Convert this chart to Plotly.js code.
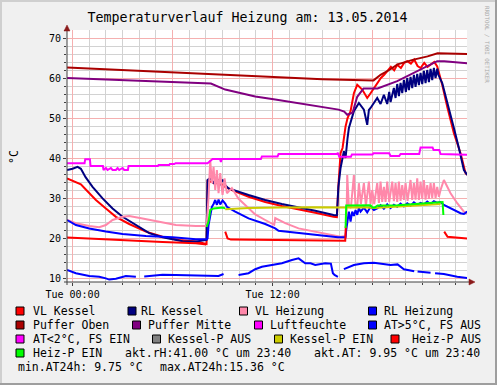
<!DOCTYPE html>
<html><head><meta charset="utf-8">
<script src="https://cdn.plot.ly/plotly-3.0.1.min.js"></script>
<style>html,body{margin:0;padding:0;background:#f0f0f0;}#chart{width:497px;height:385px;}</style>
</head><body><div id="chart"></div>
<script>
// time = hours relative to Tue 13.05.2014 00:00, value = °C
const vlKessel = [[-0.33,34.9],[0,34.3],[0.5,33.4],[0.78,32.2],[1.4,29.5],[2.0,27.4],[2.6,25.3],[3.4,23.5],[4.4,21.6],[5.4,20.3],[6.4,19.5],[7.4,19.1],[8.0,18.6],[8.04,18.5],[8.1,34.5],[8.16,34.2],[8.36,34.0],[8.56,33.5],[8.76,34.3],[9.0,33.2],[9.16,32.8],[9.56,32.0],[10.56,30.3],[11.56,29.0],[12.56,28.0],[13.56,27.2],[14.56,26.3],[15.66,25.3],[15.86,25.2],[15.95,33.0],[16.08,41.2],[16.2,42.5],[16.38,47.9],[16.5,50.0],[16.68,51.7],[16.88,56.2],[17.08,58.3],[17.38,57.1],[17.68,55.0],[17.88,56.2],[18.08,57.5],[18.28,58.7],[18.5,60.0],[18.7,60.8],[18.88,61.7],[19.1,62.8],[19.3,61.9],[19.48,63.3],[19.7,62.5],[19.9,63.8],[20.08,64.2],[20.3,63.6],[20.5,64.6],[20.7,63.0],[20.88,62.5],[21.1,63.8],[21.3,62.8],[21.48,63.3],[21.7,64.0],[21.88,62.9],[22.0,61.0],[22.18,58.3],[22.48,52.8],[22.88,46.2],[23.28,41.2],[23.58,36.2],[23.68,35.8]];
const rlKessel = [[-0.33,37.0],[0,37.3],[0.3,37.8],[0.5,37.3],[0.78,35.2],[1.2,32.8],[1.8,29.9],[2.4,27.4],[3.0,25.3],[3.8,23.25],[4.6,21.2],[5.4,20.2],[6.6,19.2],[7.4,19.1],[8.0,19.3],[8.04,19.5],[8.1,34.5],[8.26,35.0],[8.46,33.8],[8.66,34.8],[8.86,33.5],[9.0,34.6],[9.16,33.2],[9.36,32.4],[10.56,30.75],[11.56,29.5],[12.56,28.5],[13.56,27.7],[14.56,26.8],[15.66,25.75],[15.86,25.7],[15.95,32.8],[16.08,37.5],[16.28,41.7],[16.38,40.0],[16.5,45.0],[16.58,47.5],[16.88,51.7],[17.18,53.75],[17.48,52.1],[17.6,49.5],[17.68,48.3],[17.78,52.0],[17.88,52.5],[18.28,55.0],[18.48,53.5],[18.68,55.8],[18.88,53.5],[19.0,56.5],[19.08,54.0],[19.28,57.5],[19.38,55.0],[19.48,58.5],[19.58,55.5],[19.68,58.8],[19.78,56.2],[19.88,59.5],[20.0,56.5],[20.08,60.0],[20.18,57.0],[20.28,60.3],[20.38,57.5],[20.48,60.8],[20.58,57.8],[20.68,61.0],[20.78,58.2],[20.88,61.3],[20.98,58.5],[21.08,61.8],[21.18,58.7],[21.28,62.0],[21.38,59.0],[21.48,62.3],[21.58,59.5],[21.68,62.5],[21.78,60.0],[21.88,62.3],[21.95,60.8],[22.18,58.75],[22.48,54.2],[22.88,47.5],[23.18,42.5],[23.48,37.0],[23.68,35.75]];
const vlHeizung = [[-0.33,24.5],[0.2,23.7],[1.0,23.0],[1.6,22.7],[2.0,23.25],[2.4,24.5],[3.0,25.3],[3.4,25.5],[4.2,24.9],[5.2,24.1],[6.2,23.25],[7.4,23.0],[8.04,23.0],[8.16,30.3],[8.26,39.5],[8.36,33.7],[8.46,37.8],[8.56,32.0],[8.66,37.0],[8.76,31.2],[8.86,36.2],[9.0,30.75],[9.12,34.9],[9.26,31.2],[9.46,32.0],[9.56,32.5],[9.96,29.8],[10.56,27.5],[10.96,25.9],[11.56,24.5],[12.0,23.6],[12.1,23.3],[12.16,25.0],[12.76,23.7],[13.56,22.4],[14.56,21.6],[15.56,20.75],[16.08,20.3],[16.38,20.5],[16.45,27.5],[16.48,35.75],[16.58,28.0],[16.7,27.5],[16.88,35.75],[16.98,28.0],[17.08,27.5],[17.18,33.7],[17.3,28.5],[17.48,33.7],[17.6,28.0],[17.78,34.1],[17.88,28.5],[17.98,32.0],[18.1,28.5],[18.28,33.7],[18.38,28.8],[18.48,34.1],[18.58,29.0],[18.68,32.8],[18.78,29.0],[18.88,34.1],[19.0,29.0],[19.18,34.1],[19.28,29.2],[19.38,33.7],[19.48,29.0],[19.58,34.1],[19.68,29.3],[19.78,33.25],[19.88,29.5],[19.98,33.7],[20.1,29.3],[20.28,34.5],[20.38,29.5],[20.48,33.7],[20.58,29.6],[20.68,34.9],[20.78,29.5],[20.88,34.1],[20.98,29.8],[21.08,34.5],[21.18,29.6],[21.28,33.25],[21.38,29.8],[21.48,33.7],[21.58,30.0],[21.68,33.7],[21.78,30.0],[21.88,32.8],[21.98,30.3],[22.08,32.0],[22.28,34.5],[22.68,31.2],[23.08,28.7],[23.48,26.6],[23.68,26.2]];
const rlHeizung = [[-0.33,24.5],[0.2,23.25],[1.0,22.4],[2.0,21.6],[3.0,21.0],[4.4,20.5],[6.0,20.2],[7.4,19.7],[8.04,19.7],[8.1,19.9],[8.16,23.25],[8.36,27.8],[8.46,28.5],[8.56,29.5],[8.66,28.3],[8.76,29.6],[8.86,28.4],[9.0,29.4],[9.16,28.6],[9.26,27.8],[9.76,26.6],[10.56,24.9],[11.56,23.5],[12.16,22.4],[12.36,21.8],[13.56,21.2],[15.16,20.5],[15.92,20.2],[16.38,20.2],[16.42,22.0],[16.58,26.6],[16.68,24.1],[16.78,26.6],[16.88,25.5],[16.98,27.0],[17.08,25.8],[17.18,27.5],[17.28,26.6],[17.48,27.6],[17.68,26.4],[17.88,27.8],[18.08,27.0],[18.28,27.4],[18.48,28.2],[18.68,27.3],[18.88,28.4],[19.08,27.5],[19.28,28.3],[19.48,27.8],[19.68,28.6],[19.88,27.9],[20.08,28.7],[20.28,28.1],[20.48,28.9],[20.68,28.3],[20.88,28.8],[21.08,28.4],[21.28,29.1],[21.48,28.5],[21.68,29.2],[21.88,28.8],[22.08,29.0],[22.28,28.25],[22.58,27.6],[22.88,27.0],[23.28,26.2],[23.48,26.0],[23.68,26.6]];
const pufferOben = [[-0.33,62.6],[3,62.0],[6,61.35],[9,60.9],[12,60.3],[15,59.7],[18.06,59.4],[18.48,60.8],[19.0,62.0],[19.5,63.4],[20.46,64.6],[21.3,65.4],[21.9,66.2],[22.5,66.1],[23.68,66.0]];
const pufferMitte = [[-0.33,60.0],[3,59.5],[6,58.9],[8.3,58.6],[9.16,57.1],[10.96,55.4],[12.16,54.6],[14.16,53.2],[15.96,52.1],[16.3,51.6],[16.48,50.8],[16.8,51.3],[17.08,55.3],[17.46,57.4],[18.3,57.4],[19.48,59.2],[20.68,61.7],[21.88,64.2],[22.3,64.2],[23.68,63.7]];
const luftfeuchte = [[-0.33,38.7],[0.72,38.7],[0.76,39.7],[1.04,39.7],[1.08,38.0],[1.82,38.0],[1.86,37.0],[2.0,37.5],[2.1,37.0],[2.3,37.5],[2.4,37.0],[2.6,37.0],[2.7,37.5],[2.8,37.0],[3.0,37.5],[3.1,37.0],[3.32,37.0],[3.36,38.0],[5.12,38.0],[5.16,38.25],[5.8,38.25],[5.84,38.5],[6.1,38.5],[6.18,38.7],[8.1,38.7],[8.34,39.5],[8.4,39.75],[8.85,39.75],[8.9,39.0],[8.95,39.75],[11.3,39.75],[11.36,40.4],[12.3,40.4],[12.36,41.0],[15.86,41.0],[15.92,41.3],[16.0,40.3],[16.7,40.3],[16.76,40.9],[18.0,40.9],[18.06,41.2],[19.0,41.2],[19.08,40.5],[19.6,40.5],[19.68,41.0],[20.8,41.0],[20.88,42.6],[21.6,42.6],[21.66,42.0],[22.0,42.0],[22.08,41.0],[23.68,40.8]];
const atWarm = [[-0.33,12.0],[0.2,11.2],[1.0,10.5],[1.6,10.3],[2.0,9.9],[2.2,9.6],[2.6,9.8],[2.9,10.2],[3.2,10.5],[3.8,10.3],[3.9,null],[4.3,10.4],[4.6,10.5],[5.4,10.8],[6.2,10.75],[7.4,10.7],[8.1,10.5],[8.76,10.5],[9.06,11.0],[9.12,null],[9.4,11.0],[9.5,null],[9.96,10.75],[10.56,11.2],[10.96,12.2],[11.36,12.8],[11.96,13.25],[12.56,13.7],[13.16,14.5],[13.56,14.9],[13.96,13.7],[14.28,13.7],[14.56,13.25],[15.16,13.7],[15.5,13.6],[15.62,11.2],[15.72,10.75],[15.92,10.3],[16.0,null],[16.28,12.2],[16.88,13.25],[17.48,13.7],[18.08,13.8],[19.08,13.25],[19.5,13.4],[19.88,12.2],[20.5,11.7],[20.55,null],[20.7,11.6],[21.48,11.3],[21.6,null],[21.75,11.2],[22.28,11.0],[23.08,10.3],[23.68,10.0]];
const kesselPEin = [[9.16,27.2],[10.56,27.5],[12.5,27.6],[14.5,27.7],[16.38,27.6],[17.5,27.7],[18.08,27.5],[19.5,27.9],[20.5,28.1],[21.5,28.3],[22.08,28.5]];
const heizPAus = [[-0.33,20.1],[1.4,19.75],[3.4,19.3],[5.4,19.0],[7.4,18.7],[8.03,18.4],[8.05,null],[9.16,21.6],[9.3,19.9],[9.5,19.6],[12,19.5],[14,19.4],[16.36,19.3],[16.4,23.0],[16.42,null],[22.3,21.6],[22.5,20.3],[23.68,19.9]];
const heizPEin = [[8.04,22.8],[8.16,24.1],[8.26,27.0],[8.46,27.4],[9.0,27.6],[9.16,27.4],[9.18,null],[16.38,22.5],[16.42,28.1],[17.88,28.2],[18.0,27.6],[18.12,27.6],[18.3,28.1],[19.5,28.2],[20.5,28.5],[21.7,28.7],[22.2,29.0],[22.25,25.75]];

const legendLabels = ['VL Kessel','RL Kessel','VL Heizung','RL Heizung','Puffer Oben','Puffer Mitte','Luftfeuchte','AT>5°C, FS AUS','AT<2°C, FS EIN','Kessel-P AUS','Kessel-P EIN','Heiz-P AUS','Heiz-P EIN'];
const legendColors = ['#ff0000','#000080','#ff88aa','#0000ff','#aa0000','#800080','#ff00ff','#0000ff','#ff00ff','#808080','#cccc00','#ff0000','#00ff00'];
const infoTexts = ['akt.rH:41.00 °C um 23:40','akt.AT: 9.95 °C um 23:40','min.AT24h: 9.75 °C','max.AT24h:15.36 °C'];
const titleText = 'Temperaturverlauf Heizung am: 13.05.2014';
const xTickVals = [0,6,12,18];
const xTickText = ['Tue 00:00','','Tue 12:00',''];

const W=497,H=385,L=67,R=30,T=30,B=103;
const PW=W-L-R, PH=H-T-B;
const px = x => (x-L)/PW;
const py = y => (H-B-y)/PH;
const MONO = 'DejaVu Sans Mono';

function tr(pairs,color){
  return {x:pairs.map(p=>p[0]), y:pairs.map(p=>p[1]), type:'scatter', mode:'lines',
    line:{color:color,width:2}, connectgaps:false, hoverinfo:'skip', showlegend:false};
}
const data = [
  tr(vlKessel,legendColors[0]), tr(rlKessel,legendColors[1]), tr(vlHeizung,legendColors[2]),
  tr(rlHeizung,legendColors[3]), tr(pufferOben,legendColors[4]), tr(pufferMitte,legendColors[5]),
  tr(luftfeuchte,legendColors[6]), tr(atWarm,legendColors[7]), tr(kesselPEin,legendColors[10]),
  tr(heizPAus,legendColors[11]), tr(heizPEin,legendColors[12])
];

const minorX=[]; for(let h=0;h<=23;h++) minorX.push(h);

const shapes=[], annotations=[];
shapes.push({type:'rect',xref:'paper',yref:'paper',x0:px(0),x1:px(W),y0:py(0),y1:py(2),fillcolor:'#cfcfcf',line:{width:0}});
shapes.push({type:'rect',xref:'paper',yref:'paper',x0:px(0),x1:px(2),y0:py(0),y1:py(H),fillcolor:'#cfcfcf',line:{width:0}});
shapes.push({type:'rect',xref:'paper',yref:'paper',x0:px(W-2),x1:px(W),y0:py(0),y1:py(H),fillcolor:'#9e9e9e',line:{width:0}});
shapes.push({type:'rect',xref:'paper',yref:'paper',x0:px(0),x1:px(W),y0:py(H-2),y1:py(H),fillcolor:'#9e9e9e',line:{width:0}});
shapes.push({type:'line',xref:'paper',yref:'paper',x0:px(67),x1:px(67),y0:py(285),y1:py(29),line:{color:'#404040',width:1}});
shapes.push({type:'line',xref:'paper',yref:'paper',x0:px(64),x1:px(471),y0:py(282),y1:py(282),line:{color:'#404040',width:1}});
shapes.push({type:'path',xref:'paper',yref:'paper',path:`M ${px(64)} ${py(31)} L ${px(70)} ${py(31)} L ${px(67)} ${py(25)} Z`,fillcolor:'#8b1a1a',line:{color:'#8b1a1a',width:0.5}});
shapes.push({type:'path',xref:'paper',yref:'paper',path:`M ${px(469)} ${py(279)} L ${px(469)} ${py(285)} L ${px(475)} ${py(282)} Z`,fillcolor:'#8b1a1a',line:{color:'#8b1a1a',width:0.5}});

const legPos = [
  [16,311,31],[128,311,139],[239.5,311,253],[368.5,311,382],
  [16,325,31],[132.5,325,146],[254.5,325,268],[368.5,325,382],
  [16,339,31],[152.5,339,166],[274.5,339,288],[391,339,410],
  [16,353,31]
];
legendLabels.forEach((lab,i)=>{
  const [bx,cy,tx]=legPos[i];
  shapes.push({type:'rect',xref:'paper',yref:'paper',x0:px(bx),x1:px(bx+8),y0:py(cy-4),y1:py(cy+4),fillcolor:legendColors[i],line:{color:'#000',width:1}});
  annotations.push({xref:'paper',yref:'paper',x:px(tx),y:py(cy),text:lab,showarrow:false,xanchor:'left',yanchor:'middle',font:{family:MONO,size:11.5,color:'#000'}});
});
const infoPos=[[122.5,353],[312,353],[16,367],[158,367]];
infoTexts.forEach((t,i)=>{
  annotations.push({xref:'paper',yref:'paper',x:px(infoPos[i][0]),y:py(infoPos[i][1]),text:t,showarrow:false,xanchor:'left',yanchor:'middle',font:{family:MONO,size:11.5,color:'#000'}});
});
annotations.push({xref:'paper',yref:'paper',x:px(14),y:py(157),text:'°C',textangle:-90,showarrow:false,xanchor:'center',yanchor:'middle',font:{family:MONO,size:11.5,color:'#000'}});
annotations.push({xref:'paper',yref:'paper',x:px(487),y:py(44),text:'RRDTOOL / TOBI OETIKER',textangle:90,showarrow:false,xanchor:'center',yanchor:'middle',font:{family:MONO,size:5.8,color:'#a8a8a8'}});

const layout = {
  width:W, height:H, margin:{l:L,r:R,t:T,b:B,pad:0},
  paper_bgcolor:'#f0f0f0', plot_bgcolor:'#ffffff',
  title:{text:titleText, font:{family:MONO,size:13.3,color:'#000'}, x:247.5/W, xanchor:'center', y:1-17/H, yanchor:'middle'},
  showlegend:false,
  xaxis:{range:[-1/3,23+2/3], tickmode:'array', tickvals:xTickVals, ticktext:xTickText,
    showgrid:true, gridcolor:'#f5b0b0', gridwidth:1, zeroline:false, showline:false,
    ticks:'outside', ticklen:3, tickcolor:'#404040', tickfont:{family:MONO,size:10,color:'#000'},
    minor:{tickmode:'array', tickvals:minorX, showgrid:true, gridcolor:'#d2d2d2', gridwidth:1, ticks:'outside', ticklen:2, tickcolor:'#404040'},
    fixedrange:true},
  yaxis:{range:[9,72], tickmode:'linear', tick0:0, dtick:10,
    showgrid:true, gridcolor:'#f5b0b0', gridwidth:1, zeroline:false, showline:false,
    ticks:'outside', ticklen:3, tickcolor:'#404040', tickfont:{family:MONO,size:10,color:'#000'},
    minor:{tickmode:'linear', tick0:0, dtick:2, showgrid:true, gridcolor:'#d2d2d2', gridwidth:1, ticks:'outside', ticklen:2, tickcolor:'#404040'},
    fixedrange:true},
  shapes:shapes, annotations:annotations
};
Plotly.newPlot('chart', data, layout, {staticPlot:true, displayModeBar:false});
</script></body></html>
